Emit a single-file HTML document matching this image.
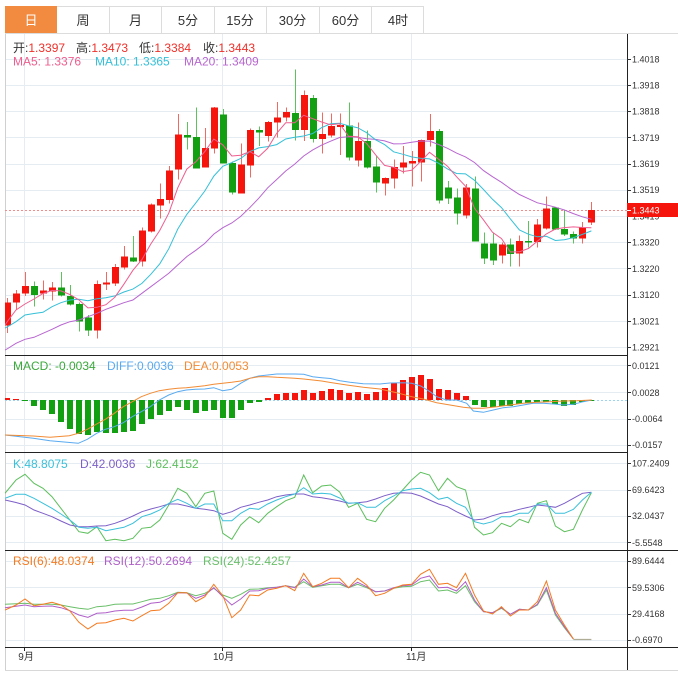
<!DOCTYPE html>
<html><head><meta charset="utf-8"><style>
html,body{margin:0;padding:0;background:#fff;}
body{width:678px;height:677px;overflow:hidden;}
svg{display:block;}
text{font-family:"Liberation Sans","Noto Sans CJK SC",sans-serif;}
</style></head><body>
<svg width="678" height="677" viewBox="0 0 678 677" xmlns="http://www.w3.org/2000/svg">
<defs><clipPath id="c"><rect x="5" y="34" width="622" height="614"/></clipPath></defs>
<!-- tabs -->
<g shape-rendering="crispEdges">
<rect x="5.5" y="6.5" width="418" height="27" fill="#fff" stroke="#dcdcdc"/>
<rect x="5.5" y="6.5" width="51" height="27" fill="#f28b3f" stroke="#f28b3f"/>
<g stroke="#dcdcdc"><line x1="109.5" y1="7" x2="109.5" y2="33"/><line x1="161.5" y1="7" x2="161.5" y2="33"/><line x1="214.5" y1="7" x2="214.5" y2="33"/><line x1="266.5" y1="7" x2="266.5" y2="33"/><line x1="319.5" y1="7" x2="319.5" y2="33"/><line x1="371.5" y1="7" x2="371.5" y2="33"/><line x1="5" y1="33.5" x2="678" y2="33.5"/></g>
</g>
<g font-size="13" text-anchor="middle" fill="#333">
<text x="31" y="25" fill="#fff">日</text><text x="83" y="25">周</text><text x="135.5" y="25">月</text><text x="188" y="25">5分</text><text x="240" y="25">15分</text><text x="292.5" y="25">30分</text><text x="345.5" y="25">60分</text><text x="398" y="25">4时</text>
</g>
<!-- frame -->
<g shape-rendering="crispEdges">
<line x1="5.5" y1="34" x2="5.5" y2="670" stroke="#d0d0d0"/>
<line x1="5" y1="670.5" x2="678" y2="670.5" stroke="#d8d8d8"/>
<!-- grid -->
<g stroke="#e6edf2">
<line x1="6" y1="59.5" x2="627" y2="59.5"/><line x1="6" y1="85.5" x2="627" y2="85.5"/><line x1="6" y1="111.5" x2="627" y2="111.5"/><line x1="6" y1="137.5" x2="627" y2="137.5"/><line x1="6" y1="164.5" x2="627" y2="164.5"/><line x1="6" y1="190.5" x2="627" y2="190.5"/><line x1="6" y1="216.5" x2="627" y2="216.5"/><line x1="6" y1="242.5" x2="627" y2="242.5"/><line x1="6" y1="268.5" x2="627" y2="268.5"/><line x1="6" y1="295.5" x2="627" y2="295.5"/><line x1="6" y1="321.5" x2="627" y2="321.5"/><line x1="6" y1="347.5" x2="627" y2="347.5"/>
<line x1="6" y1="365.5" x2="627" y2="365.5"/><line x1="6" y1="392.5" x2="627" y2="392.5"/><line x1="6" y1="419.5" x2="627" y2="419.5"/><line x1="6" y1="445.5" x2="627" y2="445.5"/>
<line x1="6" y1="463.5" x2="627" y2="463.5"/><line x1="6" y1="490.5" x2="627" y2="490.5"/><line x1="6" y1="516.5" x2="627" y2="516.5"/><line x1="6" y1="542.5" x2="627" y2="542.5"/>
<line x1="6" y1="561.5" x2="627" y2="561.5"/><line x1="6" y1="587.5" x2="627" y2="587.5"/><line x1="6" y1="614.5" x2="627" y2="614.5"/><line x1="6" y1="640.5" x2="627" y2="640.5"/>
<line x1="24.5" y1="34" x2="24.5" y2="647"/><line x1="222.5" y1="34" x2="222.5" y2="647"/><line x1="411.5" y1="34" x2="411.5" y2="647"/>
</g>
<g stroke="#222">
<line x1="5" y1="355.5" x2="627" y2="355.5"/><line x1="5" y1="452.5" x2="627" y2="452.5"/><line x1="5" y1="550.5" x2="678" y2="550.5"/><line x1="5" y1="647.5" x2="678" y2="647.5"/>
<line x1="627.5" y1="34" x2="627.5" y2="670"/>
<line x1="24.5" y1="647" x2="24.5" y2="651"/><line x1="222.5" y1="647" x2="222.5" y2="651"/><line x1="411.5" y1="647" x2="411.5" y2="651"/>
</g>
<g stroke="#333">
<line x1="627" y1="59.5" x2="631" y2="59.5"/><line x1="627" y1="85.5" x2="631" y2="85.5"/><line x1="627" y1="111.5" x2="631" y2="111.5"/><line x1="627" y1="137.5" x2="631" y2="137.5"/><line x1="627" y1="164.5" x2="631" y2="164.5"/><line x1="627" y1="190.5" x2="631" y2="190.5"/><line x1="627" y1="216.5" x2="631" y2="216.5"/><line x1="627" y1="242.5" x2="631" y2="242.5"/><line x1="627" y1="268.5" x2="631" y2="268.5"/><line x1="627" y1="295.5" x2="631" y2="295.5"/><line x1="627" y1="321.5" x2="631" y2="321.5"/><line x1="627" y1="347.5" x2="631" y2="347.5"/>
<line x1="627" y1="365.5" x2="631" y2="365.5"/><line x1="627" y1="392.5" x2="631" y2="392.5"/><line x1="627" y1="419.5" x2="631" y2="419.5"/><line x1="627" y1="445.5" x2="631" y2="445.5"/>
<line x1="627" y1="463.5" x2="631" y2="463.5"/><line x1="627" y1="490.5" x2="631" y2="490.5"/><line x1="627" y1="516.5" x2="631" y2="516.5"/><line x1="627" y1="542.5" x2="631" y2="542.5"/>
<line x1="627" y1="561.5" x2="631" y2="561.5"/><line x1="627" y1="587.5" x2="631" y2="587.5"/><line x1="627" y1="614.5" x2="631" y2="614.5"/><line x1="627" y1="640.5" x2="631" y2="640.5"/>
</g>
</g>
<!-- axis labels -->
<g font-size="9" fill="#333">
<text x="632" y="62.5">1.4018</text><text x="632" y="88.5">1.3918</text><text x="632" y="114.5">1.3818</text><text x="632" y="140.8">1.3719</text><text x="632" y="167">1.3619</text><text x="632" y="193.2">1.3519</text><text x="632" y="219.5">1.3419</text><text x="632" y="245.7">1.3320</text><text x="632" y="272">1.3220</text><text x="632" y="298.2">1.3120</text><text x="632" y="324.4">1.3021</text><text x="632" y="350.6">1.2921</text>
<text x="632" y="368.9">0.0121</text><text x="632" y="395.9">0.0028</text><text x="632" y="422.2">-0.0064</text><text x="632" y="448.2">-0.0157</text>
<text x="632" y="466.5">107.2409</text><text x="632" y="493.2">69.6423</text><text x="632" y="519.2">32.0437</text><text x="632" y="545.9">-5.5548</text>
<text x="632" y="564.2">89.6444</text><text x="632" y="590.9">59.5306</text><text x="632" y="617.2">29.4168</text><text x="632" y="643.2">-0.6970</text>
</g>
<g font-size="10" fill="#333"><text x="18.3" y="660">9月</text><text x="213" y="660">10月</text><text x="406" y="660">11月</text></g>
<!-- current price -->
<line x1="5" y1="210.5" x2="627" y2="210.5" stroke="#f08c8c" stroke-dasharray="2,2"/>
<rect x="627" y="203" width="51" height="14" fill="#f5150c"/>
<line x1="627" y1="210.5" x2="631" y2="210.5" stroke="#fff"/>
<text x="632" y="213.5" font-size="9" fill="#fff">1.3443</text>
<!-- headers -->
<g font-size="12">
<text x="13" y="52" fill="#333">开:<tspan fill="#f0302a">1.3397</tspan></text>
<text x="76" y="52" fill="#333">高:<tspan fill="#f0302a">1.3473</tspan></text>
<text x="139" y="52" fill="#333">低:<tspan fill="#f0302a">1.3384</tspan></text>
<text x="203" y="52" fill="#333">收:<tspan fill="#f0302a">1.3443</tspan></text>
<text x="13" y="65.7" fill="#ef5d8f">MA5: 1.3376</text>
<text x="95" y="65.7" fill="#35c0d8">MA10: 1.3365</text>
<text x="184" y="65.7" fill="#b866d0">MA20: 1.3409</text>
<text x="13" y="370" fill="#3aa83a">MACD: -0.0034</text>
<text x="107" y="370" fill="#5aaaf0">DIFF:0.0036</text>
<text x="184" y="370" fill="#f28b34">DEA:0.0053</text>
<text x="13" y="468" fill="#3ac0da">K:48.8075</text>
<text x="80" y="468" fill="#7d5fc8">D:42.0036</text>
<text x="146" y="468" fill="#5cbf5c">J:62.4152</text>
<text x="13" y="565" fill="#f47a20">RSI(6):48.0374</text>
<text x="104" y="565" fill="#b05fc8">RSI(12):50.2694</text>
<text x="203" y="565" fill="#6abf69">RSI(24):52.4257</text>
</g>
<g clip-path="url(#c)">
<!-- candles -->
<g shape-rendering="crispEdges">
<g fill="#f06a60">
<rect x="7" y="298" width="1" height="35"/><rect x="16" y="290" width="1" height="19.3"/><rect x="25" y="272" width="1" height="24"/><rect x="43" y="280.7" width="1" height="18.6"/><rect x="52" y="282" width="1" height="18.7"/><rect x="97" y="280.7" width="1" height="58"/><rect x="106" y="272" width="1" height="18"/><rect x="115" y="264" width="1" height="22"/><rect x="124" y="246" width="1" height="23.3"/><rect x="142" y="227.7" width="1" height="39"/><rect x="151" y="203.3" width="1" height="29.4"/><rect x="160" y="183.3" width="1" height="35.4"/><rect x="169" y="166" width="1" height="37.3"/><rect x="178" y="114" width="1" height="65.3"/><rect x="205" y="128" width="1" height="39.7"/><rect x="214" y="107" width="1" height="46.3"/><rect x="241" y="143.3" width="1" height="50.4"/><rect x="250" y="128.3" width="1" height="49.4"/><rect x="268" y="121" width="1" height="20.7"/><rect x="277" y="102" width="1" height="35.3"/><rect x="286" y="107.7" width="1" height="14"/><rect x="304" y="90.7" width="1" height="50.3"/><rect x="322" y="112.7" width="1" height="40.6"/><rect x="331" y="113.3" width="1" height="24"/><rect x="340" y="113.7" width="1" height="41.3"/><rect x="358" y="122.7" width="1" height="44"/><rect x="385" y="177.7" width="1" height="18"/><rect x="394" y="159.7" width="1" height="28.6"/><rect x="403" y="146" width="1" height="27.3"/><rect x="412" y="151" width="1" height="35.7"/><rect x="421" y="139.3" width="1" height="42.4"/><rect x="430" y="114" width="1" height="32.7"/><rect x="466" y="184" width="1" height="34.3"/><rect x="502" y="242.3" width="1" height="21"/><rect x="519" y="235.3" width="1" height="31.4"/><rect x="537" y="219" width="1" height="28.3"/><rect x="546" y="196.7" width="1" height="32.6"/><rect x="582" y="222" width="1" height="21.3"/><rect x="591" y="202" width="1" height="23"/>
</g>
<g fill="#f5150c">
<rect x="4" y="302.7" width="7" height="23"/><rect x="13" y="293.3" width="7" height="9.4"/><rect x="22" y="286" width="7" height="7.3"/><rect x="40" y="290.3" width="7" height="3"/><rect x="49" y="287.3" width="7" height="4.4"/><rect x="94" y="284" width="7" height="46.7"/><rect x="103" y="282.7" width="7" height="1.6"/><rect x="112" y="267" width="7" height="16.7"/><rect x="121" y="256.7" width="7" height="10.6"/><rect x="139" y="230.3" width="7" height="31.4"/><rect x="148" y="204.7" width="7" height="27"/><rect x="157" y="199" width="7" height="6.7"/><rect x="166" y="170.3" width="7" height="29.7"/><rect x="175" y="134.3" width="7" height="35.4"/><rect x="202" y="148" width="7" height="19.7"/><rect x="211" y="107.3" width="7" height="41.4"/><rect x="238" y="164.3" width="7" height="29.4"/><rect x="247" y="130" width="7" height="35.3"/><rect x="265" y="122" width="7" height="14"/><rect x="274" y="117.3" width="7" height="5.4"/><rect x="283" y="112" width="7" height="5.7"/><rect x="301" y="95" width="7" height="35"/><rect x="319" y="134" width="7" height="5"/><rect x="328" y="126" width="7" height="9.3"/><rect x="337" y="125" width="7" height="2"/><rect x="355" y="141" width="7" height="19.7"/><rect x="382" y="178" width="7" height="5.3"/><rect x="391" y="167" width="7" height="11.7"/><rect x="400" y="162.7" width="7" height="5"/><rect x="409" y="161" width="7" height="2.7"/><rect x="418" y="140" width="7" height="22.7"/><rect x="427" y="131" width="7" height="9"/><rect x="463" y="187.3" width="7" height="28"/><rect x="499" y="244.7" width="7" height="11"/><rect x="516" y="241" width="7" height="12.3"/><rect x="534" y="224.3" width="7" height="17.7"/><rect x="543" y="208.3" width="7" height="20.4"/><rect x="579" y="227.3" width="7" height="11.4"/><rect x="588" y="210" width="7" height="12.7"/>
</g>
<g fill="#5cc25c">
<rect x="34" y="281.7" width="1" height="25"/><rect x="61" y="272" width="1" height="24.7"/><rect x="70" y="285" width="1" height="20.7"/><rect x="79" y="302.3" width="1" height="29.4"/><rect x="88" y="315" width="1" height="21"/><rect x="133" y="236" width="1" height="26"/><rect x="187" y="122" width="1" height="27.3"/><rect x="196" y="107.7" width="1" height="61"/><rect x="223" y="109" width="1" height="54.7"/><rect x="232" y="161.7" width="1" height="32.6"/><rect x="259" y="126.7" width="1" height="19.3"/><rect x="295" y="69.3" width="1" height="71"/><rect x="313" y="95" width="1" height="47.3"/><rect x="349" y="102.3" width="1" height="58.4"/><rect x="367" y="130.7" width="1" height="37.6"/><rect x="376" y="155.7" width="1" height="37"/><rect x="439" y="129" width="1" height="74.3"/><rect x="448" y="181" width="1" height="23"/><rect x="457" y="188.3" width="1" height="36"/><rect x="475" y="176.7" width="1" height="65"/><rect x="484" y="232.3" width="1" height="31.7"/><rect x="493" y="232.3" width="1" height="32.7"/><rect x="510" y="238.3" width="1" height="28.4"/><rect x="528" y="221" width="1" height="26.3"/><rect x="555" y="207.7" width="1" height="22.3"/><rect x="564" y="210" width="1" height="26"/><rect x="573" y="231.7" width="1" height="11.6"/>
</g>
<g fill="#12a012">
<rect x="31" y="286" width="7" height="9"/><rect x="58" y="287.3" width="7" height="8.4"/><rect x="67" y="296" width="7" height="8.3"/><rect x="76" y="304" width="7" height="17.7"/><rect x="85" y="317.3" width="7" height="13.4"/><rect x="130" y="257.3" width="7" height="4"/><rect x="184" y="135" width="7" height="2.3"/><rect x="193" y="137" width="7" height="31.3"/><rect x="220" y="114.3" width="7" height="49.4"/><rect x="229" y="163" width="7" height="29.7"/><rect x="256" y="130" width="7" height="2.7"/><rect x="292" y="113" width="7" height="17"/><rect x="310" y="98" width="7" height="41"/><rect x="346" y="125.7" width="7" height="32"/><rect x="364" y="141" width="7" height="26.7"/><rect x="373" y="166.7" width="7" height="16"/><rect x="436" y="131" width="7" height="69.7"/><rect x="445" y="187.3" width="7" height="11"/><rect x="454" y="197.3" width="7" height="16"/><rect x="472" y="188.7" width="7" height="53"/><rect x="481" y="243.3" width="7" height="15.4"/><rect x="490" y="243.3" width="7" height="17.4"/><rect x="507" y="244.7" width="7" height="9.3"/><rect x="525" y="241" width="7" height="1.5"/><rect x="552" y="207.7" width="7" height="21.6"/><rect x="561" y="229" width="7" height="5.3"/><rect x="570" y="234" width="7" height="4.3"/>
</g>
</g>
<!-- MA lines -->
<g fill="none" stroke-width="1">
<polyline stroke="#b866d0" points="5,350 7,349 16,343.3 25,339.3 34,337.3 43,333.3 52,329.3 60.9,325 69.9,321.7 78.9,320 87.9,316.7 96.9,313.3 105.9,309.3 114.9,306 123.9,302.7 132.9,300 141.9,293.3 150.8,286.7 159.8,280 168.8,273.3 177.8,264.9 186.8,256.6 195.8,250.3 204.8,243.4 213.8,234.1 222.8,227.7 231.8,223 240.7,216.4 249.7,207.7 258.7,198.3 267.7,187.8 276.7,179.5 285.7,171 294.7,164.1 303.7,156 312.7,149.9 321.7,145.1 330.6,141.2 339.6,137.5 348.6,136.8 357.6,137.2 366.6,138.7 375.6,139.4 384.6,140.9 393.6,143.9 402.6,143.8 411.6,142.3 420.5,141 429.5,141.1 438.5,144.5 447.5,148.3 456.5,153.1 465.5,156.9 474.5,162.5 483.5,170.6 492.5,176.7 501.5,182.3 510.4,188.7 519.4,194.5 528.4,198.7 537.4,202.8 546.4,204.9 555.4,207.2 564.4,210 573.4,213.6 582.4,216.8 591.4,219.3"/>
<polyline stroke="#35c0d8" points="5,328 7,327 16,321.7 25,315 34,313.5 43,312.3 52,306.7 60.9,302.7 69.9,300 78.9,299.3 87.9,300.7 96.9,298.8 105.9,297.8 114.9,295.9 123.9,292 132.9,289.1 141.9,283.4 150.8,274.3 159.8,263.8 168.8,248.7 177.8,229 186.8,214.4 195.8,202.9 204.8,191 213.8,176.1 222.8,166.3 231.8,162.6 240.7,158.5 249.7,151.6 258.7,147.9 267.7,146.6 276.7,144.6 285.7,139 294.7,137.2 303.7,136 312.7,133.5 321.7,127.6 330.6,123.8 339.6,123.3 348.6,125.8 357.6,127.7 366.6,132.7 375.6,139.8 384.6,144.6 393.6,151.8 402.6,154.2 411.6,156.9 420.5,158.3 429.5,158.9 438.5,163.2 447.5,168.9 456.5,173.5 465.5,173.9 474.5,180.3 483.5,189.5 492.5,199.3 501.5,207.6 510.4,219 519.4,230 528.4,234.2 537.4,236.8 546.4,236.3 555.4,240.5 564.4,239.7 573.4,237.7 582.4,234.4 591.4,230.9"/>
<polyline stroke="#ef5d8f" points="5,325 7,322 16,310 25,304 34,299 43,293.5 52,290.4 60.9,290.9 69.9,294.5 78.9,299.9 87.9,307.9 96.9,307.3 105.9,304.7 114.9,297.2 123.9,284.2 132.9,270.3 141.9,259.6 150.8,244 159.8,230.4 168.8,213.1 177.8,187.7 186.8,169.1 195.8,161.8 204.8,151.6 213.8,139 222.8,144.9 231.8,156 240.7,155.2 249.7,151.6 258.7,156.7 267.7,148.3 276.7,133.3 285.7,122.8 294.7,122.8 303.7,115.3 312.7,118.7 321.7,122 330.6,124.8 339.6,123.8 348.6,136.3 357.6,136.7 366.6,143.5 375.6,154.8 384.6,165.4 393.6,167.3 402.6,171.6 411.6,170.3 420.5,161.7 429.5,152.3 438.5,159.1 447.5,166.2 456.5,176.7 465.5,186.1 474.5,208.3 483.5,219.9 492.5,232.3 501.5,238.6 510.4,252 519.4,251.8 528.4,248.5 537.4,241.2 546.4,233.9 555.4,229 564.4,227.6 573.4,226.9 582.4,227.5 591.4,227.8"/>
</g>
<!-- MACD -->
<line x1="5" y1="400.5" x2="627" y2="400.5" stroke="#9ad4f0" stroke-dasharray="2,2"/>
<g shape-rendering="crispEdges">
<g fill="#f5150c">
<rect x="4" y="398" width="6" height="2"/><rect x="13" y="399" width="6" height="1"/><rect x="265" y="398" width="6" height="2"/><rect x="274" y="394" width="6" height="6"/><rect x="283" y="393" width="6" height="7"/><rect x="292" y="393" width="6" height="7"/><rect x="301" y="390" width="6" height="10"/><rect x="310" y="393" width="6" height="7"/><rect x="319" y="391" width="6" height="9"/><rect x="328" y="389" width="6" height="11"/><rect x="337" y="390" width="6" height="10"/><rect x="346" y="393" width="6" height="7"/><rect x="355" y="392" width="6" height="8"/><rect x="364" y="394" width="6" height="6"/><rect x="373" y="392" width="6" height="8"/><rect x="382" y="388" width="6" height="12"/><rect x="391" y="383" width="6" height="17"/><rect x="400" y="380" width="6" height="20"/><rect x="409" y="377" width="6" height="23"/><rect x="418" y="375" width="6" height="25"/><rect x="427" y="379" width="6" height="21"/><rect x="436" y="389" width="6" height="11"/><rect x="445" y="390" width="6" height="10"/><rect x="454" y="393" width="6" height="7"/><rect x="463" y="396" width="6" height="4"/>
</g>
<g fill="#12a012">
<rect x="22" y="400" width="6" height="1"/><rect x="31" y="400" width="6" height="6"/><rect x="40" y="400" width="6" height="10"/><rect x="49" y="400" width="6" height="14"/><rect x="58" y="400" width="6" height="22"/><rect x="67" y="400" width="6" height="29"/><rect x="76" y="400" width="6" height="34"/><rect x="85" y="400" width="6" height="35"/><rect x="94" y="400" width="6" height="32"/><rect x="103" y="400" width="6" height="33"/><rect x="112" y="400" width="6" height="33"/><rect x="121" y="400" width="6" height="32"/><rect x="130" y="400" width="6" height="31"/><rect x="139" y="400" width="6" height="24"/><rect x="148" y="400" width="6" height="19"/><rect x="157" y="400" width="6" height="15"/><rect x="166" y="400" width="6" height="11"/><rect x="175" y="400" width="6" height="7"/><rect x="184" y="400" width="6" height="10"/><rect x="193" y="400" width="6" height="13"/><rect x="202" y="400" width="6" height="11"/><rect x="211" y="400" width="6" height="10"/><rect x="220" y="400" width="6" height="18"/><rect x="229" y="400" width="6" height="18"/><rect x="238" y="400" width="6" height="10"/><rect x="247" y="400" width="6" height="3"/><rect x="256" y="400" width="6" height="2"/><rect x="472" y="400" width="6" height="5"/><rect x="481" y="400" width="6" height="7"/><rect x="490" y="400" width="6" height="7"/><rect x="499" y="400" width="6" height="6"/><rect x="507" y="400" width="6" height="6"/><rect x="516" y="400" width="6" height="4"/><rect x="525" y="400" width="6" height="3"/><rect x="534" y="400" width="6" height="2"/><rect x="543" y="400" width="6" height="2"/><rect x="552" y="400" width="6" height="4"/><rect x="561" y="400" width="6" height="6"/><rect x="570" y="400" width="6" height="5"/><rect x="579" y="400" width="6" height="2"/><rect x="588" y="400" width="6" height="1"/>
</g>
</g>
<g fill="none" stroke-width="1">
<polyline stroke="#5aaaf0" points="5,435 33.3,438.3 50,440.7 78.3,443.3 87.3,439.3 96.7,433.3 105.3,429.3 114.3,426.7 123.3,422.7 132.3,416.7 141.3,411.7 150.3,406.7 159.3,400 168.7,395 177.7,391.7 186.3,390 195.7,389.3 204.7,389 213.7,387.7 222.7,390.7 231.7,389.3 240.7,383.3 249.7,378.3 258.7,376 267.7,375 276.7,374 285.7,374 294.7,374 303.7,374.3 312.7,376.7 321.7,377.7 330.5,378.5 340,380.7 350,382.3 363.3,383.7 380,384 390,383 403.3,382.7 411.7,383.3 420.7,386 430,391.7 436.7,396.7 446.7,400 456.7,400 466.7,403.3 473.3,411 483.3,412.3 493.3,410 503.3,407.7 513.3,406.7 523.3,405 533.3,403.3 543.3,403.3 553.3,404 563.3,405 573.3,404.3 583.3,401.7 591.7,400"/>
<polyline stroke="#f28b34" points="5,435 33.3,436 50,437.3 69.3,435.7 78.3,433.3 87.3,429.3 96.7,424 105.3,419.3 114.3,413.3 123.3,406.7 132.3,401.7 141.3,396.7 150.3,393.3 159.3,390.7 168.7,389.3 177.7,388.3 186.3,387.7 195.7,386.7 204.7,385.7 213.7,384.3 222.7,383.3 231.7,382.3 240.7,381 249.7,378.3 258.7,376.7 267.7,376.7 276.7,377.3 285.7,377.7 294.7,378.3 303.7,379 312.7,380 321.7,381 330.5,382.5 346.7,385 363.3,387.3 380,389 396.7,392.7 411.7,396.7 423.3,399 436.7,402.7 450,405 463.3,407.3 473.3,408.3 483.3,408.3 496.7,406.7 510,405 523.3,403.3 536.7,402.3 550,401.7 563.3,401 576.7,400.7 591.7,400"/>
<!-- KDJ -->
<polyline stroke="#5cbf5c" points="5,493.3 16,480 25,474.3 34,483.3 43,488.3 52,496.7 60.9,508.3 69.9,520 78.9,531.7 87.9,533.3 96.9,526.7 105.9,540.7 114.9,539.3 123.9,540.7 132.9,538.3 141.9,528.3 150.8,527.3 159.8,520 168.8,505 177.8,488.3 186.8,493.3 195.8,506.7 204.8,493.3 213.8,491 222.8,533.3 231.8,539.3 240.7,525 249.7,516.7 258.7,522.7 267.7,513.3 276.7,506.7 285.7,500.7 294.7,497.3 303.7,475 312.7,492.7 321.7,486 330.6,485 339.6,492 348.6,507.3 357.6,503.3 366.6,519.3 375.6,521.7 384.6,508.3 393.6,500 402.6,490 411.6,480 420.5,472.3 429.5,475 438.5,490.7 447.5,478.3 456.5,486.7 465.5,490 474.5,527.3 483.5,535 492.5,532.7 501.5,523.3 510.4,526.7 519.4,519.3 528.4,522.7 537.4,503.3 546.4,500.7 555.4,526 564.4,531.7 573.4,529.3 582.4,510 591.4,492.7"/>
<polyline stroke="#7d5fc8" points="5,500 16,502.5 25,505 34,510 43,513.3 52,516.7 60.9,521 69.9,525 78.9,526.7 87.9,526.7 96.9,526 105.9,525.7 114.9,523.3 123.9,520 132.9,516 141.9,511.7 150.8,509 159.8,506.7 168.8,504 177.8,504 186.8,506 195.8,508.3 204.8,509.3 213.8,510.7 222.8,514.3 231.8,511.7 240.7,507.3 249.7,505 258.7,502.3 267.7,500 276.7,496.7 285.7,495 294.7,494 303.7,494 312.7,496.7 321.7,497.7 330.6,499.3 339.6,501 348.6,503.3 357.6,502.7 366.6,501.7 375.6,499 384.6,495.7 393.6,493.3 402.6,492.7 411.6,493.3 420.5,496 429.5,500 438.5,504 447.5,506.7 456.5,511.7 465.5,516 474.5,520 483.5,519 492.5,515.7 501.5,513.3 510.4,511.7 519.4,509.3 528.4,507.3 537.4,505 546.4,506 555.4,507.3 564.4,503.3 573.4,498.3 582.4,493.3 591.4,492.3"/>
<polyline stroke="#3ac0da" points="5,498.3 16,494.3 25,494.3 34,498.3 43,503.3 52,508.3 60.9,514 69.9,520 78.9,527.3 87.9,528.3 96.9,527.3 105.9,530.7 114.9,529 123.9,527.3 132.9,523.3 141.9,516.7 150.8,514 159.8,510 168.8,503.3 177.8,499.3 186.8,503.3 195.8,508.3 204.8,504 213.8,504 222.8,520.7 231.8,520.7 240.7,513.3 249.7,508.3 258.7,509.3 267.7,504 276.7,500 285.7,496.7 294.7,494 303.7,487.7 312.7,494 321.7,493.3 330.6,494 339.6,498 348.6,503.3 357.6,502.7 366.6,507.3 375.6,507.3 384.6,500.7 393.6,496 402.6,490.7 411.6,489 420.5,488.3 429.5,492.7 438.5,499.3 447.5,497.3 456.5,503.3 465.5,507.3 474.5,521.7 483.5,524 492.5,521.7 501.5,516.7 510.4,516.7 519.4,513.3 528.4,513.3 537.4,504 546.4,504 555.4,513.3 564.4,513.3 573.4,509.3 582.4,500 591.4,492.3"/>
<!-- RSI -->
<polyline stroke="#6abf69" points="5,604.3 16,603.8 25,603.3 34,604.3 43,604.3 52,604.3 60.9,605 69.9,606.7 78.9,608.3 87.9,609.3 96.9,606.7 105.9,606 114.9,604.3 123.9,604 132.9,604 141.9,601.7 150.8,599.3 159.8,598.3 168.8,595.7 177.8,592.3 186.8,592.7 195.8,595.7 204.8,593.3 213.8,588.3 222.8,595 231.8,598.3 240.7,594.3 249.7,589.3 258.7,589 267.7,587.7 276.7,587.3 285.7,585.7 294.7,587.3 303.7,581.7 312.7,587.3 321.7,585.7 330.6,584.3 339.6,584.3 348.6,587.7 357.6,584.3 366.6,587.7 375.6,591.7 384.6,591 393.6,588.3 402.6,586.7 411.6,586.3 420.5,581.7 429.5,580 438.5,591 447.5,590 456.5,593.3 465.5,585.7 474.5,601.7 483.5,611.7 492.5,612.7 501.5,608.3 510.4,614.3 519.4,609.3 528.4,610 537.4,605 546.4,590 555.4,615 564.4,627.7 573.4,639"/>
<polyline stroke="#b05fc8" points="5,607.7 16,606.3 25,605 34,606.7 43,606.3 52,606 60.9,607.7 69.9,610.7 78.9,615 87.9,617.3 96.9,613.3 105.9,612.7 114.9,611 123.9,610.3 132.9,610.3 141.9,607 150.8,603.3 159.8,602.3 168.8,598.3 177.8,592.7 186.8,593 195.8,598.3 204.8,595 213.8,587.7 222.8,596.7 231.8,605 240.7,599 249.7,591 258.7,590.7 267.7,588.3 276.7,587.3 285.7,585.7 294.7,587.7 303.7,579 312.7,586.7 321.7,585 330.6,582.3 339.6,582.3 348.6,587.7 357.6,582.3 366.6,586.7 375.6,591.7 384.6,591 393.6,587.7 402.6,585.7 411.6,585 420.5,578.3 429.5,576 438.5,587.7 447.5,587.3 456.5,591 465.5,581.7 474.5,600 483.5,611.7 492.5,612.7 501.5,607.7 510.4,614.3 519.4,609.3 528.4,610 537.4,604.3 546.4,587.7 555.4,613.3 564.4,626.7 573.4,639"/>
<polyline stroke="#f47a20" points="5,610 16,605 25,599 34,605.7 43,604.3 52,602.3 60.9,605 69.9,611 78.9,622.3 87.9,629 96.9,623.3 105.9,622.7 114.9,620 123.9,618.3 132.9,621 141.9,615.7 150.8,610.7 159.8,610 168.8,603.3 177.8,592.7 186.8,592.7 195.8,601.7 204.8,596.7 213.8,584.3 222.8,595.7 231.8,617.7 240.7,610 249.7,595 258.7,595.7 267.7,590 276.7,588.3 285.7,585.7 294.7,590.7 303.7,573.3 312.7,586.7 321.7,583.3 330.6,578.3 339.6,578.3 348.6,587.7 357.6,578.3 366.6,585 375.6,595.7 384.6,593.3 393.6,588.3 402.6,585 411.6,584.3 420.5,574.3 429.5,569.3 438.5,584.3 447.5,583.3 456.5,587.7 465.5,573.3 474.5,595 483.5,611 492.5,614 501.5,606.7 510.4,616 519.4,610 528.4,610 537.4,601.7 546.4,581 555.4,610 564.4,625 573.4,639"/>
<line x1="573.4" y1="639.5" x2="591.4" y2="639.5" stroke="#b0ad96" stroke-width="1.3"/>
</g>
</g>
</svg>
</body></html>
